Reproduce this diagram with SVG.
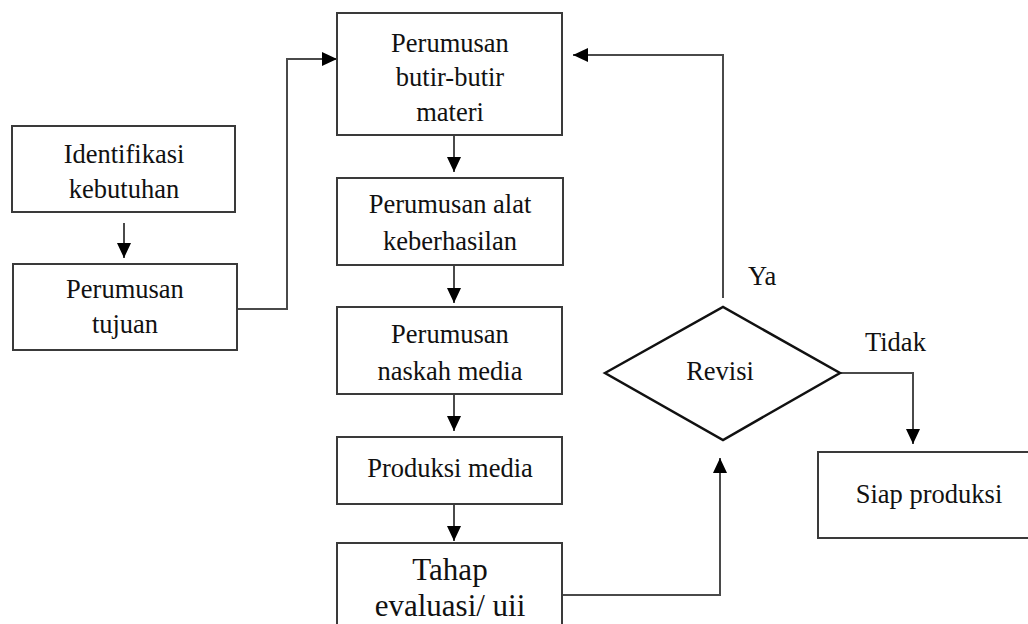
<svg xmlns="http://www.w3.org/2000/svg" width="1028" height="624" viewBox="0 0 1028 624">
<style>
.box{fill:#fff;stroke:#3a3a3a;stroke-width:2}
.dia{fill:#fff;stroke:#111;stroke-width:2.5}
.t{font-family:"Liberation Serif","Times New Roman",serif;font-size:26.5px;fill:#111;text-anchor:middle}
.tl{font-family:"Liberation Serif","Times New Roman",serif;font-size:26.5px;fill:#111}
.big{font-size:31px}
.c{fill:none;stroke:#4a4a4a;stroke-width:2}
</style>
<defs>
<marker id="ah" markerUnits="userSpaceOnUse" markerWidth="15" markerHeight="14" refX="15" refY="7" orient="auto" viewBox="0 0 15 14">
<path d="M0,0 L15,7 L0,14 z" fill="#000"/>
</marker>
</defs>
<rect width="1028" height="624" fill="#fff"/>
<g id="connectors">
<path class="c" d="M124,223 V258" marker-end="url(#ah)"/>
<path class="c" d="M237,309 H287 V59 H337" marker-end="url(#ah)"/>
<path class="c" d="M454,135 V172" marker-end="url(#ah)"/>
<path class="c" d="M454,265 V303" marker-end="url(#ah)"/>
<path class="c" d="M454,394 V431" marker-end="url(#ah)"/>
<path class="c" d="M454,504 V541" marker-end="url(#ah)"/>
<path class="c" d="M562,595 H720 V458" marker-end="url(#ah)"/>
<path class="c" d="M723,298 V55 H573" marker-end="url(#ah)"/>
<path class="c" d="M840,373 H913 V444" marker-end="url(#ah)"/>
</g>
<g id="identifikasi">
<rect class="box" x="12" y="126" width="223" height="86"/>
<text class="t" x="124" y="163">Identifikasi</text>
<text class="t" x="124" y="198">kebutuhan</text>
</g>
<g id="tujuan">
<rect class="box" x="13" y="264" width="224" height="86"/>
<text class="t" x="125" y="298">Perumusan</text>
<text class="t" x="125" y="333">tujuan</text>
</g>
<g id="materi">
<rect class="box" x="337" y="13" width="225" height="122"/>
<text class="t" x="450" y="52">Perumusan</text>
<text class="t" x="450" y="86">butir-butir</text>
<text class="t" x="450" y="121">materi</text>
</g>
<g id="alat">
<rect class="box" x="337" y="178" width="226" height="87"/>
<text class="t" x="450" y="213">Perumusan alat</text>
<text class="t" x="450" y="250">keberhasilan</text>
</g>
<g id="naskah">
<rect class="box" x="337" y="307" width="225" height="87"/>
<text class="t" x="450" y="343">Perumusan</text>
<text class="t" x="450" y="380">naskah media</text>
</g>
<g id="produksi">
<rect class="box" x="337" y="437" width="225" height="67"/>
<text class="t" x="450" y="477">Produksi media</text>
</g>
<g id="evaluasi">
<rect class="box" x="337" y="543" width="225" height="100"/>
<text class="t big" x="450" y="580">Tahap</text>
<text class="t big" x="450" y="616">evaluasi/ uii</text>
</g>
<g id="revisi">
<polygon class="dia" points="605,373 723,307 840,373 723,440"/>
<text class="t" x="720" y="380">Revisi</text>
</g>
<g id="siap">
<rect class="box" x="818" y="452" width="230" height="86"/>
<text class="t" x="929" y="503">Siap produksi</text>
</g>
<g id="labels">
<text class="tl" x="748" y="285">Ya</text>
<text class="tl" x="865" y="351">Tidak</text>
</g>
</svg>
